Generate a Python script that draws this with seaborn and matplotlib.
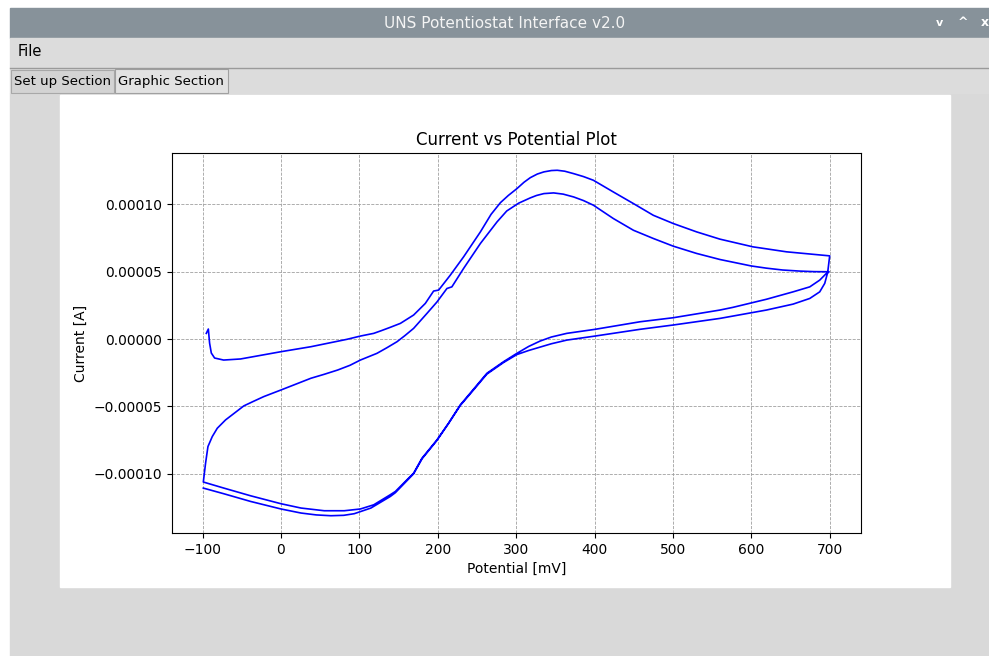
import numpy as np
import pandas as pd
import matplotlib
matplotlib.use("Agg")
import matplotlib.pyplot as plt
from matplotlib.patches import Rectangle
import seaborn as sns

# cyclic voltammetry trace, potential in mV, current in uA
fwd1_mv = [-95.3, -92.7, -91.1, -88.9, -84.7, -73.2, -51.6, 0, 38.2, 63.7, 84.3, 101.3, 118.3,
           128, 139.5, 152.3, 169.2, 184.1, 194.7, 201.1, 216, 233, 254.4, 268, 280, 290,
           301, 310, 318, 327, 335.4, 345, 352.4, 362, 373.4, 386, 398.5, 424, 449.6, 475,
           500.4, 530.2, 560, 602, 644.9, 700]
fwd1_ua = [4.2, 7.4, -3.0, -10.4, -14.1, -15.6, -14.8, -9.4, -5.7, -2.7, -0.2, 2.2, 4.2,
           6.2, 8.7, 11.6, 17.8, 26.4, 35.6, 36.3, 47.4, 61, 79.5, 92.5, 101.2, 106.5,
           111.6, 116.3, 119.7, 122.4, 124, 125, 125.2, 124.5, 122.7, 120.5, 117.8, 109.1,
           100.5, 91.8, 85.7, 79.5, 74.1, 68.4, 64.7, 61.7]

rev1_mv = [697.5, 695.8, 687.3, 674.6, 653.3, 619.3, 576.6, 560, 500.4, 458, 400.7, 364.6,
           345, 330.6, 316, 301, 284, 262.7, 241.4, 228.7, 213.8, 199, 179.9, 169.2, 145.9,
           139.5, 118.3, 101.3, 80.7, 55.2, 25.5, 0, -38.8, -72.9, -99.1]
rev1_ua = [49.6, 48.7, 43.7, 38.7, 35.0, 29.5, 23.5, 21.5, 15.8, 12.8, 7.2, 4.2,
           1.5, -1.5, -5.5, -10.6, -16.8, -25.4, -40.2, -48.9, -62.4, -74.8, -88.4, -99.5,
           -113.1, -115.5, -123, -126.1, -127.4, -127.4, -125.4, -122.2, -116.3, -110.6,
           -106.1]

fwd2_mv = [-99.1, -96.2, -93.2, -87.7, -81.3, -70.7, -58.5, -47.4, -35, -21.9, 0, 20, 38.2,
           55, 72.3, 88, 101.3, 122.5, 135, 148, 158, 169.2, 186.2, 199, 211.7, 218, 233,
           254.4, 275.6, 288, 303.2, 318, 326, 335.4, 347.8, 360, 373.4, 386, 398.5, 424,
           449.6, 475, 500.4, 530.2, 560, 600, 619, 640, 661.8, 680, 697.9]
fwd2_ua = [-106.1, -92, -79.8, -72.4, -66.2, -60, -54.5, -49.6, -46.2, -42.7, -37.8, -33.2,
           -29.1, -26.2, -23, -19.5, -15.6, -10.6, -6.5, -2, 2.5, 7.9, 19, 27.5, 37.5, 38.7,
           52.4, 70.9, 86.9, 95, 100.8, 104.7, 106.5, 107.9, 108.4, 107.5, 105.4, 102.7,
           99.3, 89.4, 80.7, 74.6, 68.9, 63.5, 59, 54.2, 52.6, 51.2, 50.4, 50.0, 49.9]

rev2_mv = [699.2, 697.1, 693.7, 687.3, 674.6, 653.3, 619.3, 576.8, 560, 500.4, 458, 400.7,
           364.6, 345, 330.6, 316, 301, 284, 262.7, 241.4, 228.7, 213.8, 199, 179.9, 169.2,
           145.9, 139.5, 114.7, 93.4, 80, 63.7, 45, 25.5, 0, -38.8, -72.9, -99.1]
rev2_ua = [49.9, 48.7, 41.3, 35.0, 30.1, 25.9, 21.5, 17.0, 15.3, 10.4, 7.2, 2.2,
           -0.8, -3.5, -6.0, -8.5, -11.5, -17.4, -26.0, -40.7, -49.3, -62.6, -75.2, -88.9,
           -100, -114, -116.8, -125.4, -129.6, -130.8, -131.1, -130.5, -129.1, -126.1,
           -120.5, -114.8, -110.6]

potential = fwd1_mv + rev1_mv + fwd2_mv + rev2_mv
current = np.array(fwd1_ua + rev1_ua + fwd2_ua + rev2_ua) * 1e-6
df = pd.DataFrame({"Potential": potential, "Current": current})

W, H = 989, 656
fig = plt.figure(figsize=(W / 100, H / 100), dpi=100)

# window chrome drawn in pixel coordinates
bg = fig.add_axes([0, 0, 1, 1])
bg.set_xlim(0, W)
bg.set_ylim(H, 0)
bg.axis("off")
gui_font = ["Liberation Sans Narrow", "DejaVu Sans"]

bg.add_patch(Rectangle((0, 0), W, H, color="white"))
bg.add_patch(Rectangle((10, 93), W - 10, H - 93, color="#d9d9d9"))
bg.add_patch(Rectangle((10, 8), W - 10, 30, color="#87929a"))
bg.add_patch(Rectangle((10, 38), W - 10, 30, color="#dcdcdc"))
bg.plot([10, W], [68, 68], color="#9a9a9a", lw=1)
bg.add_patch(Rectangle((10, 69), W - 10, 24, color="#dcdcdc"))
bg.add_patch(Rectangle((11, 70), 103, 23, facecolor="#d3d3d3", edgecolor="#a8a8a8", lw=0.8))
bg.add_patch(Rectangle((115, 69), 113, 24, facecolor="#e2e2e2", edgecolor="#a0a0a0", lw=0.8))
bg.add_patch(Rectangle((60, 95), 890, 492, color="white"))

bg.text(505, 23, "UNS Potentiostat Interface v2.0", ha="center", va="center",
        color="#f4f4f4", fontsize=11, family=gui_font)
bg.text(939, 23, "v", ha="center", va="center", color="white", fontsize=8, weight="bold")
bg.text(963, 23, "^", ha="center", va="center", color="white", fontsize=9, weight="bold")
bg.text(985, 23, "x", ha="center", va="center", color="white", fontsize=9, weight="bold")
bg.text(18, 52, "File", ha="left", va="center", fontsize=10.5, family=gui_font)
bg.text(62, 81, "Set up Section", ha="center", va="center", fontsize=9.5, family=gui_font)
bg.text(171, 81, "Graphic Section", ha="center", va="center", fontsize=9.5, family=gui_font)

# the plot itself
ax = fig.add_axes([172 / W, (H - 533) / H, (861 - 172) / W, (533 - 153) / H])
sns.lineplot(data=df, x="Potential", y="Current", sort=False, estimator=None,
             color="blue", lw=1.2, ax=ax)
ax.set_xticks(np.arange(-100, 701, 100))
ax.set_yticks(np.arange(-0.0001, 0.00011, 0.00005))
ax.yaxis.set_major_formatter(matplotlib.ticker.FuncFormatter(
    lambda v, p: f"{v:.5f}".replace("-", "\u2212") if abs(v) > 1e-12 else "0.00000"))
ax.grid(True, linestyle="--", color="#a0a0a0", lw=0.6)
ax.set_title("Current vs Potential Plot", fontsize=12)
ax.set_xlabel("Potential [mV]")
ax.set_ylabel("Current [A]")

fig.savefig("out.png", dpi=100)
